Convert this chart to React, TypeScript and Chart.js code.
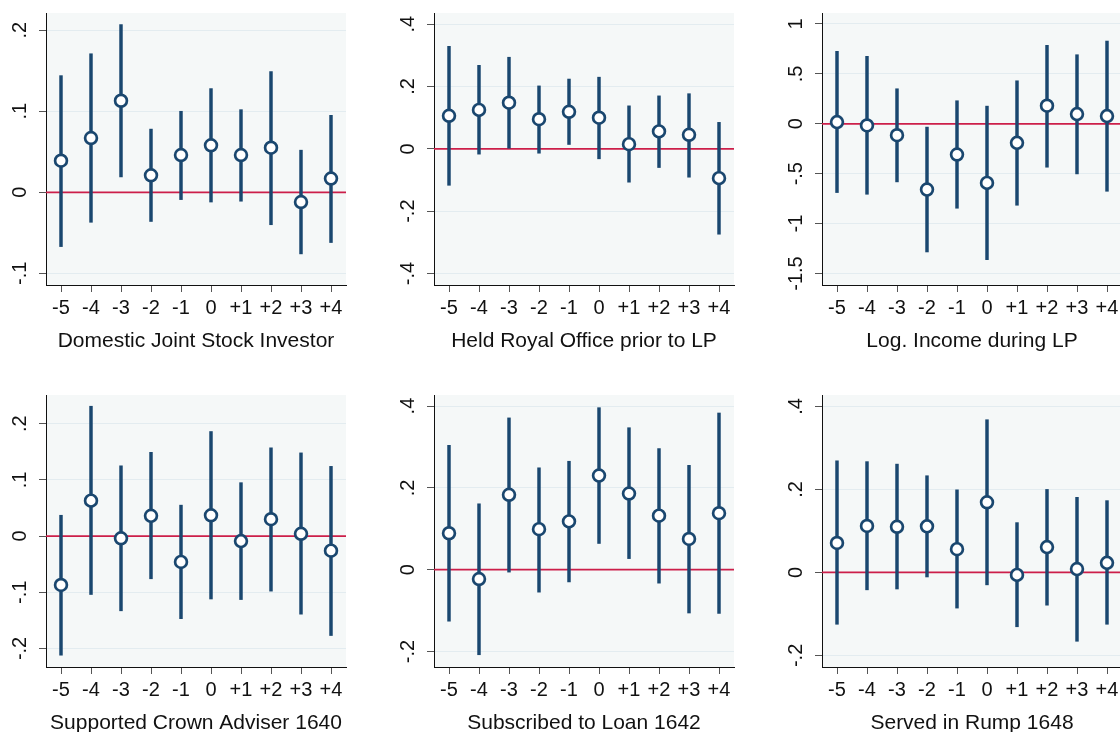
import React, { useEffect, useRef } from "react";
import { Chart, registerables } from "chart.js";

Chart.register(...registerables);

// Event time relative to the reference period
const eventTimes = [-5, -4, -3, -2, -1, 0, 1, 2, 3, 4];
const eventLabels = ["-5", "-4", "-3", "-2", "-1", "0", "+1", "+2", "+3", "+4"];

// Domestic Joint Stock Investor
const investorEst = [0.039, 0.067, 0.113, 0.021, 0.046, 0.058, 0.046, 0.055, -0.012, 0.017];
const investorLo = [-0.067, -0.037, 0.019, -0.036, -0.009, -0.012, -0.011, -0.04, -0.076, -0.062];
const investorHi = [0.144, 0.171, 0.207, 0.078, 0.1, 0.128, 0.102, 0.149, 0.052, 0.095];

// Held Royal Office prior to LP
const officeEst = [0.106, 0.125, 0.148, 0.095, 0.119, 0.1, 0.015, 0.056, 0.045, -0.094];
const officeLo = [-0.117, -0.017, 0.002, -0.014, 0.014, -0.032, -0.107, -0.06, -0.091, -0.274];
const officeHi = [0.329, 0.268, 0.294, 0.202, 0.224, 0.23, 0.138, 0.17, 0.177, 0.085];

// Log. Income during LP
const incomeEst = [0.017, -0.017, -0.114, -0.659, -0.308, -0.592, -0.191, 0.181, 0.097, 0.077];
const incomeLo = [-0.689, -0.706, -0.582, -1.284, -0.846, -1.361, -0.816, -0.435, -0.502, -0.676];
const incomeHi = [0.726, 0.676, 0.351, -0.033, 0.231, 0.177, 0.431, 0.786, 0.692, 0.829];

// Supported Crown Adviser 1640
const adviserEst = [-0.087, 0.063, -0.004, 0.036, -0.046, 0.037, -0.009, 0.03, 0.004, -0.026];
const adviserLo = [-0.212, -0.104, -0.133, -0.076, -0.147, -0.112, -0.113, -0.098, -0.139, -0.177];
const adviserHi = [0.037, 0.231, 0.125, 0.149, 0.055, 0.186, 0.095, 0.157, 0.148, 0.124];

// Subscribed to Loan 1642
const loanEst = [0.089, -0.023, 0.183, 0.099, 0.118, 0.23, 0.186, 0.132, 0.075, 0.138];
const loanLo = [-0.126, -0.208, -0.006, -0.055, -0.03, 0.064, 0.027, -0.033, -0.106, -0.107];
const loanHi = [0.304, 0.161, 0.371, 0.249, 0.265, 0.396, 0.347, 0.296, 0.255, 0.383];

// Served in Rump 1648
const rumpEst = [0.071, 0.112, 0.11, 0.111, 0.056, 0.169, -0.006, 0.061, 0.008, 0.023];
const rumpLo = [-0.125, -0.042, -0.04, -0.011, -0.086, -0.03, -0.131, -0.079, -0.166, -0.125];
const rumpHi = [0.269, 0.267, 0.261, 0.233, 0.199, 0.368, 0.12, 0.2, 0.181, 0.173];

// Y tick values and their labels
const ticksTenths = [-0.1, 0, 0.1, 0.2];
const labelsTenths = ["-.1", "0", ".1", ".2"];
const ticksFifths = [-0.4, -0.2, 0, 0.2, 0.4];
const labelsFifths = ["-.4", "-.2", "0", ".2", ".4"];
const ticksHalves = [-1.5, -1, -0.5, 0, 0.5, 1];
const labelsHalves = ["-1.5", "-1", "-.5", "0", ".5", "1"];
const ticksAdviser = [-0.2, -0.1, 0, 0.1, 0.2];
const labelsAdviser = ["-.2", "-.1", "0", ".1", ".2"];
const ticksLower = [-0.2, 0, 0.2, 0.4];
const labelsLower = ["-.2", "0", ".2", ".4"];

const NAVY = "#1a476f";
const RED = "#cc1f4a";
const PLOT_BG = "#f5f8f8";
const GRID = "#e3ecf0";
const FONT = '"Liberation Sans", Arial, Helvetica, sans-serif';

const AXIS_W = 46;
const AREA_W = 300;
const AREA_H = 272;
const PAD_TOP = 13;
const PAD_RIGHT = 30;
const BELOW = 75;

type PanelDef = {
  title: string;
  est: number[];
  lo: number[];
  hi: number[];
  yMin: number;
  yMax: number;
  yTicks: number[];
  yLabels: string[];
  left: number;
  top: number;
};

const panels: PanelDef[] = [
  { title: "Domestic Joint Stock Investor", est: investorEst, lo: investorLo, hi: investorHi, yMin: -0.1144, yMax: 0.2213, yTicks: ticksTenths, yLabels: labelsTenths, left: 0, top: 0 },
  { title: "Held Royal Office prior to LP", est: officeEst, lo: officeLo, hi: officeHi, yMin: -0.437, yMax: 0.436, yTicks: ticksFifths, yLabels: labelsFifths, left: 388, top: 0 },
  { title: "Log. Income during LP", est: incomeEst, lo: incomeLo, hi: incomeHi, yMin: -1.615, yMax: 1.11, yTicks: ticksHalves, yLabels: labelsHalves, left: 776, top: 0 },
  { title: "Supported Crown Adviser 1640", est: adviserEst, lo: adviserLo, hi: adviserHi, yMin: -0.233, yMax: 0.251, yTicks: ticksAdviser, yLabels: labelsAdviser, left: 0, top: 382 },
  { title: "Subscribed to Loan 1642", est: loanEst, lo: loanLo, hi: loanHi, yMin: -0.238, yMax: 0.427, yTicks: ticksLower, yLabels: labelsLower, left: 388, top: 382 },
  { title: "Served in Rump 1648", est: rumpEst, lo: rumpLo, hi: rumpHi, yMin: -0.228, yMax: 0.4276, yTicks: ticksLower, yLabels: labelsLower, left: 776, top: 382 },
];

function Panel({ def }: { def: PanelDef }) {
  const ref = useRef<HTMLCanvasElement | null>(null);

  useEffect(() => {
    if (!ref.current) return;

    const background = {
      id: "plotBackground",
      beforeDraw(chart: any) {
        const { ctx, chartArea: a } = chart;
        ctx.save();
        ctx.fillStyle = PLOT_BG;
        ctx.fillRect(a.left, a.top, a.right - a.left, a.bottom - a.top);
        ctx.restore();
      },
    };

    const labels = {
      id: "axisText",
      afterDraw(chart: any) {
        const { ctx, chartArea: a, scales } = chart;
        ctx.save();
        ctx.fillStyle = "#111";
        ctx.font = `20px ${FONT}`;
        ctx.textAlign = "center";
        ctx.textBaseline = "alphabetic";
        def.yTicks.forEach((v, i) => {
          const py = scales.y.getPixelForValue(v);
          ctx.save();
          ctx.translate(a.left - 20.5, py);
          ctx.rotate(-Math.PI / 2);
          ctx.fillText(def.yLabels[i], 0, 0);
          ctx.restore();
        });
        eventTimes.forEach((v, i) => {
          ctx.fillText(eventLabels[i], scales.x.getPixelForValue(v), a.bottom + 28.5);
        });
        ctx.font = `21px ${FONT}`;
        ctx.fillText(def.title, (a.left + a.right) / 2, a.bottom + 61.5);
        ctx.restore();
      },
    };

    const chart = new Chart(ref.current, {
      type: "scatter",
      data: {
        datasets: [
          {
            type: "scatter",
            data: def.est.map((y, i) => ({ x: eventTimes[i], y })),
            pointRadius: 5.9,
            pointBorderWidth: 2.7,
            pointBackgroundColor: "#ffffff",
            pointBorderColor: NAVY,
            order: 0,
          },
          {
            type: "bar",
            data: eventTimes.map((x, i) => ({ x, y: [def.lo[i], def.hi[i]] })) as any,
            backgroundColor: NAVY,
            borderWidth: 0,
            barThickness: 2.8,
            order: 1,
          },
          {
            type: "line",
            data: [
              { x: -5.5, y: 0 },
              { x: 4.5, y: 0 },
            ],
            borderColor: RED,
            borderWidth: 1.7,
            pointRadius: 0,
            order: 2,
          },
        ] as any,
      },
      options: {
        animation: false,
        responsive: false,
        events: [],
        layout: { padding: { top: PAD_TOP, right: PAD_RIGHT, left: 0, bottom: 0 } },
        plugins: { legend: { display: false }, tooltip: { enabled: false } },
        scales: {
          x: {
            type: "linear",
            min: -5.5,
            max: 4.5,
            offset: false,
            afterBuildTicks: (ax: any) => {
              ax.ticks = eventTimes.map((value) => ({ value }));
            },
            afterFit: (ax: any) => {
              ax.height = BELOW;
            },
            ticks: { display: false },
            grid: { display: true, offset: false, drawOnChartArea: false, drawTicks: true, tickLength: 7, tickColor: "#555", tickWidth: 1 },
            border: { display: true, color: "#111", width: 1 },
          },
          y: {
            type: "linear",
            min: def.yMin,
            max: def.yMax,
            afterBuildTicks: (ax: any) => {
              ax.ticks = def.yTicks.map((value) => ({ value }));
            },
            afterFit: (ax: any) => {
              ax.width = AXIS_W;
            },
            ticks: { display: false },
            grid: { color: GRID, lineWidth: 1, drawTicks: true, tickLength: 7, tickColor: "#555", tickWidth: 1 },
            border: { display: true, color: "#111", width: 1 },
          },
        },
      } as any,
      plugins: [background, labels],
    });

    return () => chart.destroy();
  }, [def]);

  const w = AXIS_W + AREA_W + PAD_RIGHT;
  const h = PAD_TOP + AREA_H + BELOW;
  return (
    <canvas
      ref={ref}
      width={w}
      height={h}
      style={{ position: "absolute", left: def.left, top: def.top, width: w, height: h }}
    />
  );
}

export default function App() {
  return (
    <div
      style={{
        position: "fixed",
        left: 0,
        top: 0,
        width: 1120,
        height: 732,
        overflow: "hidden",
        background: "#ffffff",
      }}
    >
      {panels.map((p) => (
        <Panel key={p.title} def={p} />
      ))}
    </div>
  );
}
